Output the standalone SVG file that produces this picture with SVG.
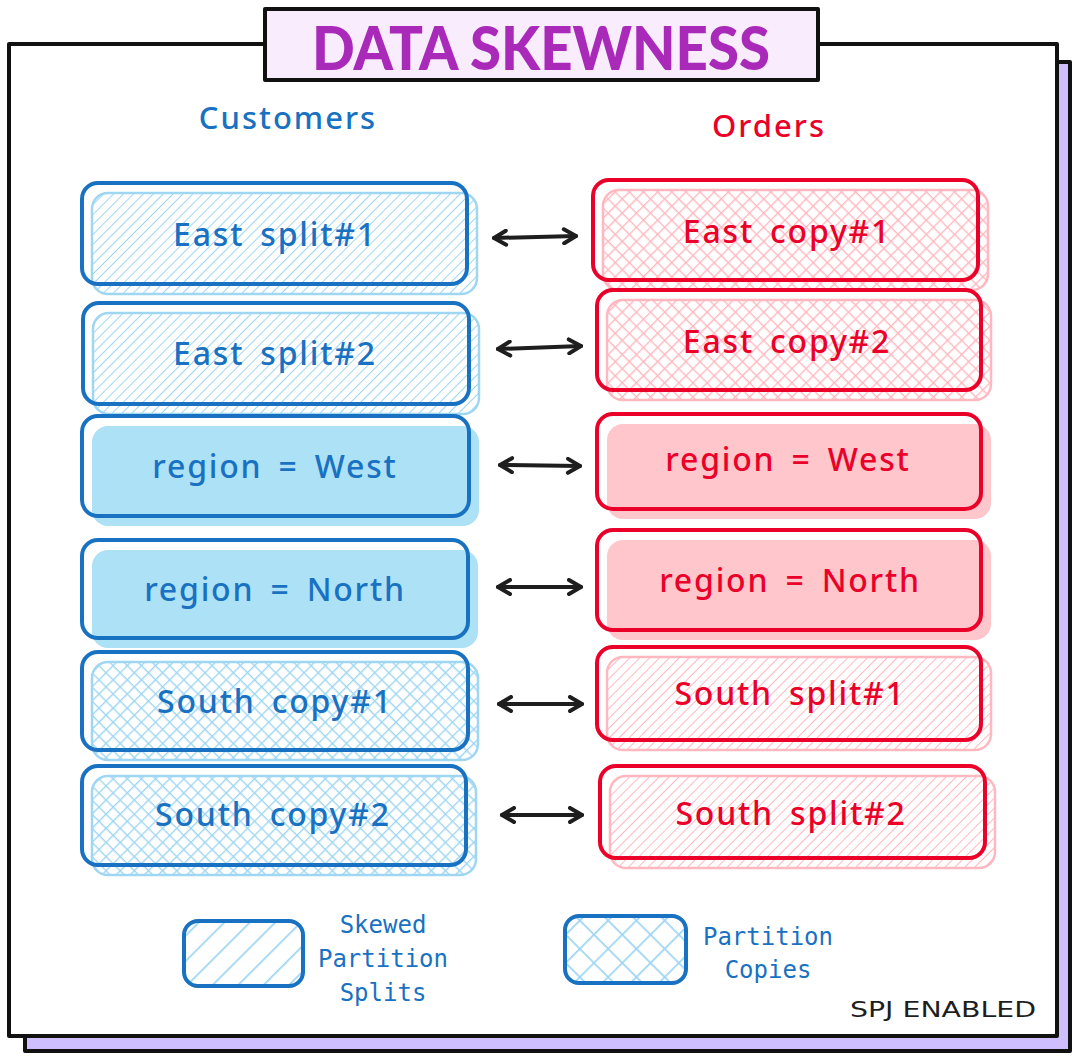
<svg xmlns="http://www.w3.org/2000/svg" width="1080" height="1060" viewBox="0 0 1080 1060">
  <style>
    .frame { stroke: #111; stroke-width: 4; stroke-linejoin: round; }
    .lbl { font-family: "Noto Sans", "DejaVu Sans", sans-serif; font-size: 32px; font-weight: 500; letter-spacing: 1.8px; word-spacing: 6px; text-anchor: middle; dominant-baseline: central; }
    .b { fill: #1971c2; }
    .r { fill: #ea0029; }
    .mainB { fill: none; stroke: #1971c2; stroke-width: 4; }
    .mainR { fill: none; stroke: #ea0029; stroke-width: 4; }
    .layB { stroke: #9fd6f1; stroke-width: 2.5; }
    .layR { stroke: #ffb8bf; stroke-width: 2.5; }
    .head { font-family: "Noto Sans", "DejaVu Sans", sans-serif; font-size: 31px; font-weight: 500; letter-spacing: 2px; text-anchor: middle; dominant-baseline: central; }
    .leg { font-family: "DejaVu Sans Mono", "Liberation Mono", monospace; font-size: 24px; fill: #1971c2; text-anchor: middle; dominant-baseline: central; }
    .conn { stroke: #1e1e1e; stroke-width: 4; fill: none; stroke-linecap: round; }
  </style>
  <defs>
    <pattern id="hatchB" patternUnits="userSpaceOnUse" width="7" height="7" patternTransform="rotate(45)">
      <line x1="0" y1="0" x2="0" y2="7" stroke="#9fd6f1" stroke-width="2"/>
    </pattern>
    <pattern id="hatchR" patternUnits="userSpaceOnUse" width="7" height="7" patternTransform="rotate(45)">
      <line x1="0" y1="0" x2="0" y2="7" stroke="#ffb8bf" stroke-width="2"/>
    </pattern>
    <pattern id="crossB" patternUnits="userSpaceOnUse" width="10" height="10" patternTransform="rotate(45)">
      <line x1="0" y1="0" x2="0" y2="10" stroke="#9fd6f1" stroke-width="2.8"/>
      <line x1="0" y1="0" x2="10" y2="0" stroke="#9fd6f1" stroke-width="2.8"/>
    </pattern>
    <pattern id="crossR" patternUnits="userSpaceOnUse" width="10" height="10" patternTransform="rotate(45)">
      <line x1="0" y1="0" x2="0" y2="10" stroke="#ffb8bf" stroke-width="2.8"/>
      <line x1="0" y1="0" x2="10" y2="0" stroke="#ffb8bf" stroke-width="2.8"/>
    </pattern>
    <pattern id="legHatch" patternUnits="userSpaceOnUse" width="18" height="18" patternTransform="rotate(45)">
      <line x1="0" y1="0" x2="0" y2="18" stroke="#9fd6f4" stroke-width="3.5"/>
    </pattern>
    <pattern id="legCross" patternUnits="userSpaceOnUse" width="20" height="20" patternTransform="rotate(45)">
      <line x1="0" y1="0" x2="0" y2="20" stroke="#9fd6f4" stroke-width="3.5"/>
      <line x1="0" y1="0" x2="20" y2="0" stroke="#9fd6f4" stroke-width="3.5"/>
    </pattern>
    <marker id="ah" markerUnits="userSpaceOnUse" viewBox="0 0 18 18" refX="15" refY="9" markerWidth="18" markerHeight="18" orient="auto-start-reverse">
      <path d="M3,2 L15,9 L3,16" fill="none" stroke="#1e1e1e" stroke-width="4" stroke-linecap="round" stroke-linejoin="round"/>
    </marker>
  </defs>

  <!-- background -->
  <rect width="1080" height="1060" fill="#ffffff"/>

  <!-- frame -->
  <g id="frame">
    <rect x="25" y="62" width="1045" height="989" fill="#d0bfff" class="frame"/>
    <rect x="9" y="44" width="1048" height="992" fill="#ffffff" class="frame"/>
  </g>

  <!-- title -->
  <g id="title">
    <rect x="265" y="9" width="553" height="71" fill="#f9ecfd" class="frame"/>
    <text x="541" y="47" font-family="Lato, Inter, 'Noto Sans', sans-serif" font-weight="900" font-size="60" fill="#a92ab9" text-anchor="middle" dominant-baseline="central" textLength="458" lengthAdjust="spacingAndGlyphs">DATA SKEWNESS</text>
  </g>

  <g id="head-customers"><text class="head b" x="288" y="117">Customers</text></g>
  <g id="head-orders"><text class="head r" x="769" y="125">Orders</text></g>

  <!-- Customers column -->
  <g id="c-east1">
    <rect x="92" y="193" width="385" height="101" rx="16" fill="url(#hatchB)" class="layB"/>
    <rect x="82" y="183" width="385" height="101" rx="16" class="mainB"/>
    <text class="lbl b" x="275" y="233">East split#1</text>
  </g>
  <g id="c-east2">
    <rect x="93" y="313" width="386" height="101" rx="16" fill="url(#hatchB)" class="layB"/>
    <rect x="83" y="303" width="386" height="101" rx="16" class="mainB"/>
    <text class="lbl b" x="275" y="352">East split#2</text>
  </g>
  <g id="c-west">
    <rect x="92" y="426" width="387" height="100" rx="16" fill="#ade1f5" stroke="none"/>
    <rect x="82" y="416" width="387" height="100" rx="16" class="mainB"/>
    <text class="lbl b" x="275" y="465">region = West</text>
  </g>
  <g id="c-north">
    <rect x="92" y="550" width="386" height="98" rx="16" fill="#ade1f5" stroke="none"/>
    <rect x="82" y="540" width="386" height="98" rx="16" class="mainB"/>
    <text class="lbl b" x="275" y="588">region = North</text>
  </g>
  <g id="c-south1">
    <rect x="92" y="662" width="386" height="98" rx="16" fill="url(#crossB)" class="layB"/>
    <rect x="82" y="652" width="386" height="98" rx="16" class="mainB"/>
    <text class="lbl b" x="275" y="700">South copy#1</text>
  </g>
  <g id="c-south2">
    <rect x="92" y="776" width="384" height="99" rx="16" fill="url(#crossB)" class="layB"/>
    <rect x="82" y="766" width="384" height="99" rx="16" class="mainB"/>
    <text class="lbl b" x="273" y="813">South copy#2</text>
  </g>

  <!-- Orders column -->
  <g id="o-east1">
    <rect x="603" y="190" width="385" height="100" rx="16" fill="url(#crossR)" class="layR"/>
    <rect x="593" y="180" width="385" height="100" rx="16" class="mainR"/>
    <text class="lbl r" x="787" y="230">East copy#1</text>
  </g>
  <g id="o-east2">
    <rect x="607" y="300" width="384" height="100" rx="16" fill="url(#crossR)" class="layR"/>
    <rect x="597" y="290" width="384" height="100" rx="16" class="mainR"/>
    <text class="lbl r" x="787" y="340">East copy#2</text>
  </g>
  <g id="o-west">
    <rect x="607" y="424" width="384" height="95" rx="16" fill="#ffc6cb" stroke="none"/>
    <rect x="597" y="414" width="384" height="95" rx="16" class="mainR"/>
    <text class="lbl r" x="788" y="458">region = West</text>
  </g>
  <g id="o-north">
    <rect x="607" y="540" width="384" height="100" rx="16" fill="#ffc6cb" stroke="none"/>
    <rect x="597" y="530" width="384" height="100" rx="16" class="mainR"/>
    <text class="lbl r" x="790" y="579">region = North</text>
  </g>
  <g id="o-south1">
    <rect x="607" y="657" width="384" height="93" rx="16" fill="url(#hatchR)" class="layR"/>
    <rect x="597" y="647" width="384" height="93" rx="16" class="mainR"/>
    <text class="lbl r" x="790" y="692">South split#1</text>
  </g>
  <g id="o-south2">
    <rect x="610" y="776" width="385" height="92" rx="16" fill="url(#hatchR)" class="layR"/>
    <rect x="600" y="766" width="385" height="92" rx="16" class="mainR"/>
    <text class="lbl r" x="791" y="812">South split#2</text>
  </g>

  <!-- connectors -->
  <g id="connectors">
    <path class="conn" d="M494,238 L576,236" marker-start="url(#ah)" marker-end="url(#ah)"/>
    <path class="conn" d="M498,349 L581,346" marker-start="url(#ah)" marker-end="url(#ah)"/>
    <path class="conn" d="M500,465 L580,466" marker-start="url(#ah)" marker-end="url(#ah)"/>
    <path class="conn" d="M498,587 L581,587" marker-start="url(#ah)" marker-end="url(#ah)"/>
    <path class="conn" d="M499,704 L582,704" marker-start="url(#ah)" marker-end="url(#ah)"/>
    <path class="conn" d="M502,815 L582,815" marker-start="url(#ah)" marker-end="url(#ah)"/>
  </g>

  <!-- legend -->
  <g id="legend-splits">
    <rect x="184" y="921" width="119" height="65" rx="14" fill="url(#legHatch)" stroke="#1971c2" stroke-width="4"/>
    <text class="leg" x="383" y="925">Skewed</text>
    <text class="leg" x="383" y="959">Partition</text>
    <text class="leg" x="383" y="993">Splits</text>
  </g>
  <g id="legend-copies">
    <rect x="565" y="916" width="121" height="67" rx="14" fill="url(#legCross)" stroke="#1971c2" stroke-width="4"/>
    <text class="leg" x="768" y="937">Partition</text>
    <text class="leg" x="768" y="970">Copies</text>
  </g>

  <g id="signature">
    <text x="943" y="1010" font-family="'DejaVu Sans', sans-serif" font-size="21" fill="#1e1e1e" text-anchor="middle" dominant-baseline="central" textLength="186" lengthAdjust="spacingAndGlyphs">SPJ ENABLED</text>
  </g>
</svg>
